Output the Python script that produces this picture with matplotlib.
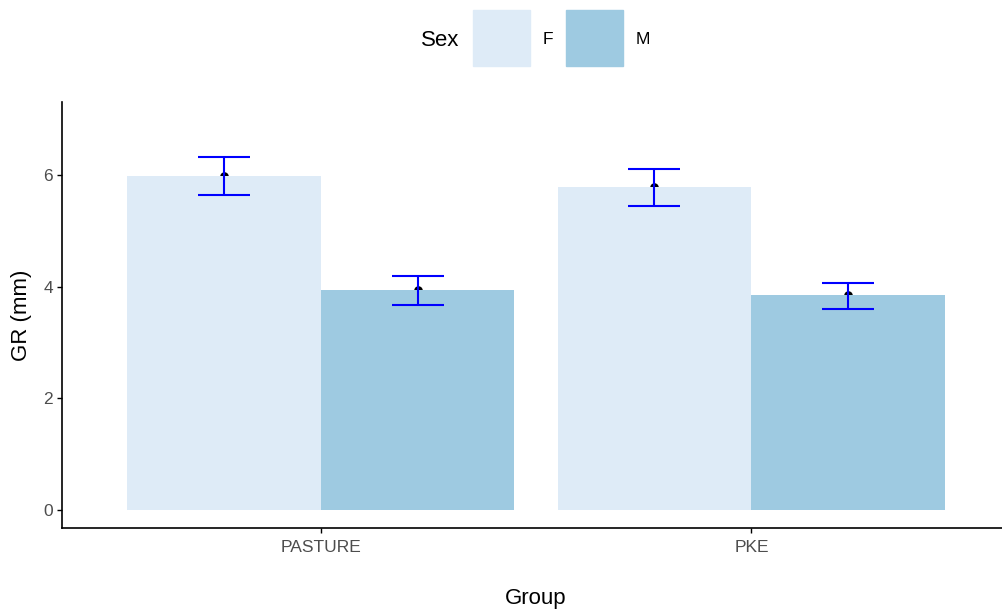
import numpy as np
import matplotlib.pyplot as plt
from matplotlib.patches import Rectangle

plt.rcParams['font.family'] = ['Liberation Sans', 'DejaVu Sans']

# Mean GR by group and sex, with error bar limits
groups = ['PASTURE', 'PKE']
sexes = ['F', 'M']
gr_f = [5.99, 5.79]
gr_m = [3.94, 3.85]
lo_f = [5.65, 5.44]
hi_f = [6.33, 6.11]
lo_m = [3.67, 3.60]
hi_m = [4.19, 4.07]

colors = {'F': '#deebf7', 'M': '#9ecae1'}

W, H = 1002, 611
fig = plt.figure(figsize=(W / 100, H / 100), dpi=100)
ax = fig.add_axes([62 / W, (H - 528) / H, (1010 - 62) / W, 426 / H])

x = np.arange(1, len(groups) + 1)
w = 0.45
means = {'F': gr_f, 'M': gr_m}
lows = {'F': lo_f, 'M': lo_m}
highs = {'F': hi_f, 'M': hi_m}

for i, s in enumerate(sexes):
    xs = x + (i - 0.5) * w
    m = np.array(means[s])
    # mean point sits under the bar, so only its top half shows
    ax.scatter(xs, m, s=38, color='black', zorder=1, linewidths=0)
    ax.bar(xs, m, width=w, color=colors[s], zorder=2)
    err = np.array([m - np.array(lows[s]), np.array(highs[s]) - m])
    ax.errorbar(xs, m, yerr=err, fmt='none', ecolor='blue', elinewidth=1.5,
                capsize=19, capthick=1.5, zorder=3)

ax.set_xlim(0.4, 2.6)
ax.set_ylim(-0.33, 7.31)
ax.set_xticks(x)
ax.set_xticklabels(groups)
ax.set_yticks([0, 2, 4, 6])
for sp in ['top', 'right']:
    ax.spines[sp].set_visible(False)
for sp in ['left', 'bottom']:
    ax.spines[sp].set_linewidth(1.2)
ax.tick_params(labelcolor='#4d4d4d', labelsize=12.5, length=3.5, width=1, pad=3, color='black')
ax.tick_params(axis='x', pad=5)
ax.set_xlabel('Group', fontsize=16, labelpad=24)
ax.set_ylabel('GR (mm)', fontsize=16, labelpad=8)

# legend drawn along the top: title, then key boxes with labels
fig.text(440 / W, 1 - 40 / H, 'Sex', fontsize=16, ha='center', va='center')
key_x = {'F': 473, 'M': 566}
for s in sexes:
    fig.patches.append(Rectangle((key_x[s] / W, 1 - 66 / H), 57 / W, 56 / H,
                                 transform=fig.transFigure, color=colors[s]))
    fig.text((key_x[s] + 70) / W, 1 - 40 / H, s, fontsize=12.5, ha='left', va='center')

fig.savefig('out.png', dpi=100)
